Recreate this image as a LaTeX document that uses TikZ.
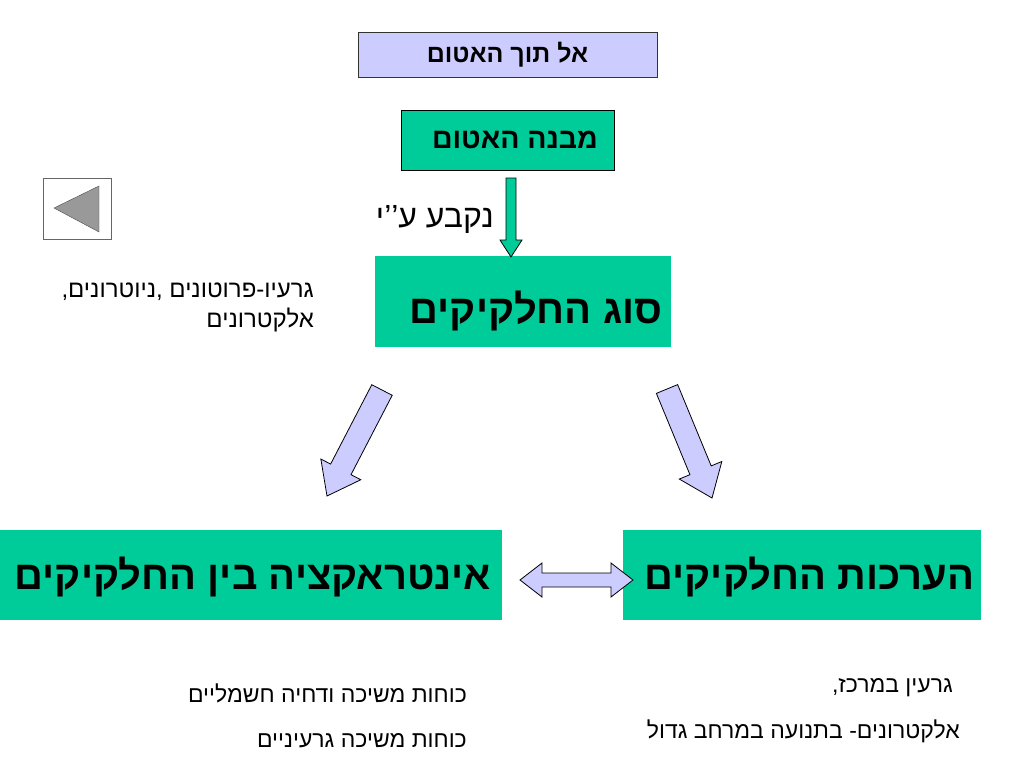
\documentclass[tikz,border=0pt]{standalone}
\usepackage{fontspec}
\usetikzlibrary{calc}
\newfontfamily\hebfont[Script=Hebrew]{Liberation Sans}
\TeXXeTstate=1
\definecolor{boxgreen}{RGB}{0,204,153}
\definecolor{lilac}{RGB}{204,204,255}
\definecolor{btngray}{RGB}{153,153,153}
% block arrow: style, from, to, shaft half width, head half width, head length
\newcommand{\fatarrow}[6]{%
  \coordinate (fa-h) at ($(#3)!#6!(#2)$);
  \draw[#1] ($(#2)!#4!90:(#3)$) -- ($(fa-h)!#4!90:(#3)$) -- ($(fa-h)!#5!90:(#3)$) -- (#3)
    -- ($(fa-h)!#5!-90:(#3)$) -- ($(fa-h)!#4!-90:(#3)$) -- ($(#2)!#4!-90:(#3)$) -- cycle;}

\begin{document}
\begin{tikzpicture}[x=1pt,y=-1pt,
    box/.style={rectangle,fill=boxgreen,inner sep=0pt},
    bigtxt/.style={font={\hebfont\bfseries\fontsize{40}{48}\selectfont},inner sep=0pt},
    smalltxt/.style={font={\hebfont\fontsize{23}{28}\selectfont},inner sep=0pt},
    fat/.style={draw=black,line width=0.8pt,line join=miter}]
        \useasboundingbox (0,0) rectangle (1024,768);

        \node[box,fill=lilac,draw=black!80,line width=1pt,minimum width=299,minimum height=44,font={\hebfont\bfseries\fontsize{25}{30}\selectfont}] (top) at (507.5,55) {\beginR אל תוך האטום\endR};
        \node[box,draw=black,line width=1pt,minimum width=213,minimum height=60,
              label={[font={\hebfont\bfseries\fontsize{28.5}{34}\selectfont},inner sep=0pt,xshift=7.5pt]center:{\beginR מבנה האטום\endR}}] (mivne) at (507.5,140) {};
        \node[box,minimum width=296,minimum height=91,
              label={[bigtxt,xshift=13pt,yshift=-9pt]center:{\beginR סוג החלקיקים\endR}}] (sug) at (523,301.5) {};
        \node[box,minimum width=502,minimum height=90,
              label={[bigtxt,xshift=2pt,yshift=-2pt]center:{\beginR אינטראקציה בין החלקיקים\endR}}] (inter) at (251,575) {};
        \node[box,minimum width=358,minimum height=90,
              label={[bigtxt,xshift=7.5pt,yshift=-2pt]center:{\beginR הערכות החלקיקים\endR}}] (arachot) at (802,575) {};

        % back button
        \node[rectangle,draw=black!60,fill=white,minimum width=68,minimum height=61] (back) at (77,208.5) {};
        \draw[draw=black!70,fill=btngray] (54,208) -- (99,186) -- (99,232) -- cycle;

        \node[smalltxt,font={\hebfont\fontsize{32}{38}\selectfont},anchor=base east] (nikba) at (494,227) {\beginR נקבע ע’’י\endR};
        \node[smalltxt,font={\hebfont\fontsize{24}{30}\selectfont},anchor=base east] (parts1) at (314,297) {\beginR גרעיו-פרוטונים ,ניוטרונים,\endR};
        \node[smalltxt,font={\hebfont\fontsize{24}{30}\selectfont},anchor=base east] (parts2) at (314,327) {\beginR אלקטרונים\endR};

        \node[smalltxt,anchor=east] (koach1) at (467,693) {\beginR כוחות משיכה ודחיה חשמליים\endR};
        \node[smalltxt,anchor=east] (koach2) at (467,741) {\beginR כוחות משיכה גרעיניים\endR};
        \node[smalltxt,anchor=east] (garin) at (953,688) {\beginR גרעין במרכז,\endR};
        \node[smalltxt,anchor=east] (elek) at (960,731) {\beginR אלקטרונים- בתנועה במרחב גדול\endR};

        % arrows
        \coordinate (d1) at (511,178);
        \coordinate (d2) at (511,257);
        \fatarrow{fat,fill=boxgreen}{d1}{d2}{5pt}{11pt}{17pt}
        \coordinate (l1) at (382,390);
        \coordinate (l2) at (327,496);
        \fatarrow{fat,fill=lilac}{l1}{l2}{11.5pt}{22.5pt}{30pt}
        \coordinate (r1) at (667,389);
        \coordinate (r2) at (712,498);
        \fatarrow{fat,fill=lilac}{r1}{r2}{11.5pt}{23pt}{30pt}

        \coordinate (w1) at (520,580);
        \coordinate (w2) at (633,580);
        \coordinate (wa) at ($(w1)!22pt!(w2)$);
        \coordinate (wb) at ($(w2)!22pt!(w1)$);
        \draw[fat,fill=lilac] (w1) -- ($(wa)+(0,-17)$) -- ($(wa)+(0,-7)$) -- ($(wb)+(0,-7)$) -- ($(wb)+(0,-17)$) -- (w2)
            -- ($(wb)+(0,17)$) -- ($(wb)+(0,7)$) -- ($(wa)+(0,7)$) -- ($(wa)+(0,17)$) -- cycle;
\end{tikzpicture}
\end{document}
